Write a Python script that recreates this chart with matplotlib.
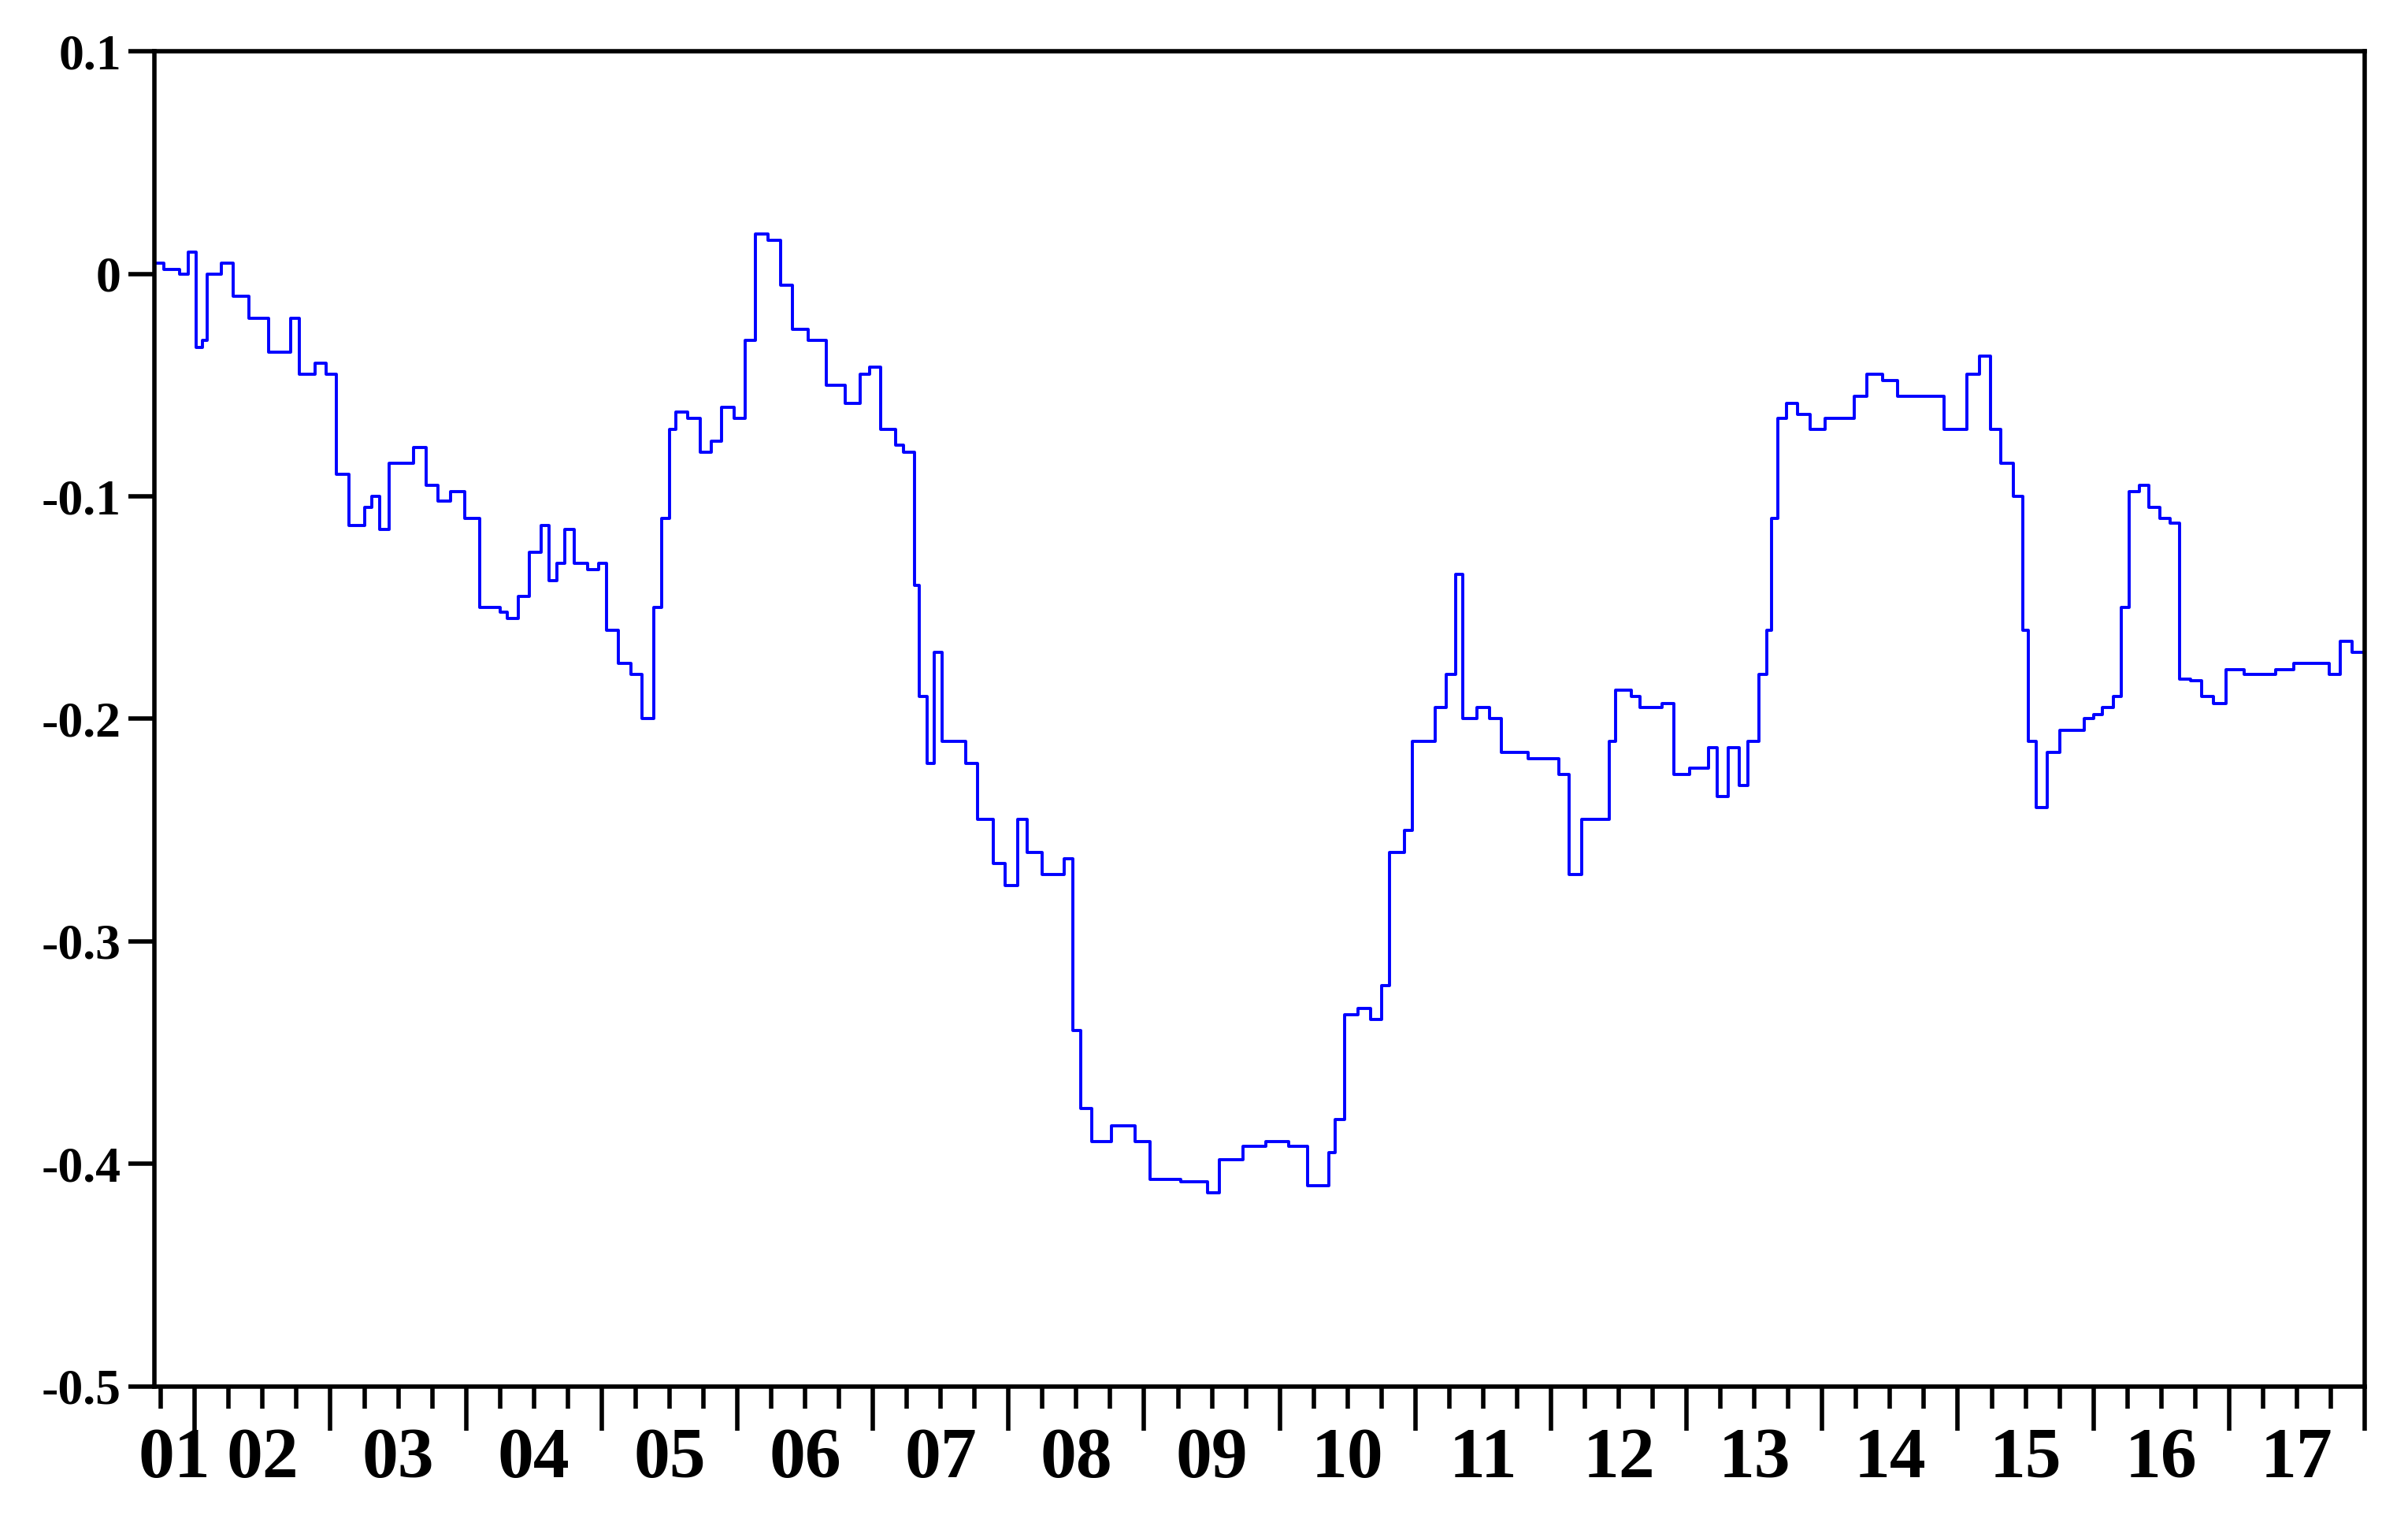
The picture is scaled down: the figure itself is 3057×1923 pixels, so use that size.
import numpy as np
import matplotlib.pyplot as plt
from matplotlib.ticker import FixedLocator, NullFormatter

# positions (horizontal pixel in the 1560px-wide view) and values
x_read = [103, 110, 120, 126, 131, 135, 138, 147, 155, 165, 178, 192, 198, 208, 215, 222, 230, 240,
          245, 250, 256, 265, 272, 280, 288, 296, 305, 315, 328, 333, 340, 347, 355, 360, 365, 370,
          376, 385, 392, 397, 405, 413, 420, 428, 433, 438, 442, 450, 458, 465, 472, 480, 487, 494,
          502, 510, 518, 528, 540, 552, 562, 568, 575, 585, 590, 597, 600, 605, 610, 615, 622, 630,
          638, 648, 656, 664, 670, 680, 688, 694, 700, 705, 712, 725, 740, 750, 770, 787, 795, 810,
          825, 840, 852, 858, 866, 870, 876, 885, 893, 900, 905, 915, 920, 928, 935, 942, 948, 953,
          962, 970, 978, 995, 1008, 1015, 1022, 1030, 1038, 1048, 1052, 1062, 1068, 1082, 1090, 1100,
          1108, 1112, 1118, 1125, 1132, 1138, 1145, 1150, 1153, 1157, 1163, 1170, 1178, 1188, 1200,
          1207, 1215, 1225, 1235, 1258, 1265, 1272, 1280, 1288, 1295, 1302, 1310, 1316, 1320, 1325,
          1332, 1340, 1350, 1356, 1362, 1368, 1375, 1380, 1385, 1392, 1398, 1405, 1412, 1418, 1425,
          1432, 1440, 1448, 1460, 1480, 1492, 1508, 1515, 1522, 1530, 1538]
values = [0.005, 0.002, 0.0, 0.01, -0.033, -0.03, 0.0, 0.005, -0.01, -0.02, -0.035, -0.02, -0.045,
          -0.04, -0.045, -0.09, -0.113, -0.105, -0.10, -0.115, -0.085, -0.085, -0.078, -0.095, -0.102,
          -0.098, -0.11, -0.15, -0.152, -0.155, -0.145, -0.125, -0.113, -0.138, -0.13, -0.115, -0.13,
          -0.133, -0.13, -0.16, -0.175, -0.18, -0.2, -0.15, -0.11, -0.07, -0.062, -0.065, -0.08,
          -0.075, -0.06, -0.065, -0.03, 0.018, 0.015, -0.005, -0.025, -0.03, -0.05, -0.058, -0.045,
          -0.042, -0.07, -0.077, -0.08, -0.14, -0.19, -0.22, -0.17, -0.21, -0.21, -0.22, -0.245,
          -0.265, -0.275, -0.245, -0.26, -0.27, -0.27, -0.263, -0.34, -0.375, -0.39, -0.383, -0.39,
          -0.407, -0.408, -0.413, -0.398, -0.392, -0.39, -0.392, -0.41, -0.41, -0.395, -0.38, -0.333,
          -0.33, -0.335, -0.32, -0.26, -0.25, -0.21, -0.21, -0.195, -0.18, -0.135, -0.2, -0.195,
          -0.2, -0.215, -0.218, -0.218, -0.225, -0.27, -0.245, -0.245, -0.21, -0.187, -0.19, -0.195,
          -0.193, -0.225, -0.222, -0.222, -0.213, -0.235, -0.213, -0.23, -0.21, -0.18, -0.16, -0.11,
          -0.065, -0.058, -0.063, -0.07, -0.065, -0.065, -0.055, -0.045, -0.048, -0.055, -0.055,
          -0.07, -0.07, -0.045, -0.037, -0.07, -0.085, -0.1, -0.16, -0.21, -0.24, -0.215, -0.205,
          -0.205, -0.2, -0.198, -0.195, -0.19, -0.15, -0.098, -0.095, -0.105, -0.11, -0.112, -0.182,
          -0.183, -0.19, -0.193, -0.178, -0.18, -0.178, -0.175, -0.175, -0.18, -0.165, -0.17, -0.168]
year_labels = ["01", "02", "03", "04", "05", "06", "07", "08", "09", "10", "11", "12",
               "13", "14", "15", "16", "17"]

years = 2002 + (np.array(x_read) - 130) / 88.0

fig = plt.figure(figsize=(30.57, 19.23), dpi=100)
ax = fig.add_axes([0.064, 0.085, 0.918, 0.881])
ax.plot(years, values, color="#0000ff", lw=2.8, drawstyle="steps-post")

ax.set_xlim(2001.7, 2018.0)
ax.set_ylim(-0.5, 0.1)

for s in ax.spines.values():
    s.set_linewidth(4)

ax.set_yticks(np.arange(-0.5, 0.11, 0.1))
ax.set_yticklabels(["-0.5", "-0.4", "-0.3", "-0.2", "-0.1", "0", "0.1"])
ax.tick_params(axis="y", direction="out", length=24, width=4, pad=6)
for lab in ax.get_yticklabels():
    lab.set_fontfamily("Liberation Serif")
    lab.set_fontweight("bold")
    lab.set_fontsize(46)

ax.xaxis.set_major_locator(FixedLocator(np.arange(2002, 2019)))
ax.xaxis.set_minor_locator(FixedLocator(np.arange(2001.75, 2018, 0.25)))
ax.xaxis.set_major_formatter(NullFormatter())
ax.tick_params(axis="x", which="major", direction="out", length=40, width=4)
ax.tick_params(axis="x", which="minor", direction="out", length=20, width=4)

for i, lab in enumerate(year_labels):
    xc = 2001.85 if i == 0 else 2001 + i + 0.5
    ax.text(xc, -0.5 - 0.033, lab, ha="center", va="center", fontsize=66,
            fontweight="bold", family="Liberation Serif", clip_on=False)

fig.savefig("out.png", dpi=100)
